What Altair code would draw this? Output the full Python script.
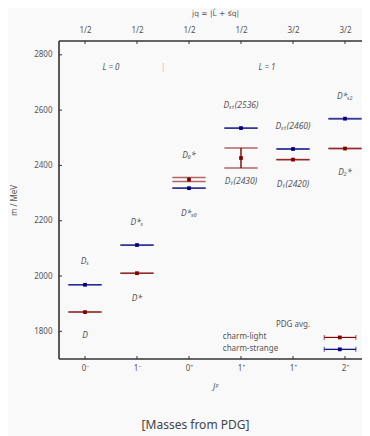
import json
import altair as alt
import pandas as pd

# ---------------- data ----------------
positions = [0, 1, 2, 3, 4, 5]
jp_labels = ["0⁻", "1⁻", "0⁺", "1⁺", "1⁺", "2⁺"]
jq_labels = ["1/2", "1/2", "1/2", "1/2", "3/2", "3/2"]

light_mass = [1869.66, 2010.26, 2349.0, 2427.0, 2421.0, 2461.1]
light_err = [0.05, 0.05, 7.0, 36.0, 0.6, 0.8]
light_names = ["D", "D*", "D₀*", "D₁(2430)", "D₁(2420)", "D₂*"]
light_label_y = [1785, 1920, 2436, 2342, 2334, 2376]

strange_mass = [1968.35, 2112.2, 2317.8, 2535.1, 2459.5, 2569.1]
strange_err = [0.07, 0.4, 0.5, 0.2, 0.6, 0.8]
strange_names = ["Dₛ", "D*ₛ", "D*ₛ₀", "Dₛ₁(2536)", "Dₛ₁(2460)", "D*ₛ₂"]
strange_label_y = [2053, 2194, 2227, 2620, 2544, 2652]

series = ["charm-light", "charm-strange"]
colors = ["#800000", "#000080"]

y_ticks = [1800, 2000, 2200, 2400, 2600, 2800]

L_text = ["L = 0", "|", "L = 1"]
L_x = [0.5, 1.5, 3.5]
L_y = [2752, 2752, 2752]

legend_title = "PDG avg."
legend_title_pos = (4.0, 1822)
legend_y = [1778, 1735]
legend_text_x = 2.65
legend_bar = (4.6, 5.21, 4.9)

half_width = 0.32

# ---------------- tables ----------------
pts = []
for s, masses, errs in [(series[0], light_mass, light_err), (series[1], strange_mass, strange_err)]:
    for p, m, e in zip(positions, masses, errs):
        pts.append({"series": s, "x": p, "m": m, "lo": m - e, "hi": m + e,
                    "x_lo": p - half_width, "x_hi": p + half_width})
pts_df = pd.DataFrame(pts)

caps = []
for r in pts:
    for yy in (r["lo"], r["hi"]):
        caps.append({"series": r["series"], "x_lo": r["x_lo"], "x_hi": r["x_hi"], "y": yy})
caps_df = pd.DataFrame(caps)

labels_df = pd.DataFrame(
    [{"x": p, "y": y, "t": t} for p, y, t in zip(positions, light_label_y, light_names)]
    + [{"x": p, "y": y, "t": t} for p, y, t in zip(positions, strange_label_y, strange_names)]
)
L_df = pd.DataFrame({"x": L_x, "y": L_y, "t": L_text})

leg_df = pd.DataFrame({"series": series, "y": legend_y, "tx": [legend_text_x] * 2,
                       "b0": [legend_bar[0]] * 2, "b1": [legend_bar[1]] * 2,
                       "bc": [legend_bar[2]] * 2})
leg_title_df = pd.DataFrame({"x": [legend_title_pos[0]], "y": [legend_title_pos[1]], "t": [legend_title]})
leg_ends_df = pd.DataFrame({"series": series * 2, "y": legend_y * 2,
                            "x": [legend_bar[0]] * 2 + [legend_bar[1]] * 2})

yt_df = pd.DataFrame({"y": y_ticks})
xt_df = pd.DataFrame({"x": positions})

# ---------------- chart ----------------
W, H = 303, 318      # visible part of the plot; the frame continues past the page edge
FULL_W = 312
FONT = "Noto Sans"
TXT = "#555555"
xs = alt.Scale(domain=[-0.5, 5.5], nice=False, zero=False, range=[0, FULL_W])
ys = alt.Scale(domain=[1700, 2850], nice=False, zero=False)
cs = alt.Scale(domain=series, range=colors)


def X(f, axis=None):
    return alt.X(f, type="quantitative", scale=xs, axis=axis)


def Y(f, axis=None):
    return alt.Y(f, type="quantitative", scale=ys, axis=axis)


C = alt.Color("series:N", scale=cs, legend=None)

bottom_axis = alt.Axis(orient="bottom", values=positions,
                       labelExpr=json.dumps(jp_labels, ensure_ascii=False) + "[datum.value]",
                       ticks=False, domain=False, grid=False, labelPadding=5,
                       labelFont=FONT, labelFontSize=8, labelColor=TXT,
                       title="Jᴾ", titleFont=FONT, titleFontSize=8, titleColor=TXT,
                       titleFontWeight="normal", titlePadding=11, titleFontStyle="italic")
top_axis = alt.Axis(orient="top", values=positions,
                    labelExpr=json.dumps(jq_labels) + "[datum.value]",
                    ticks=False, domain=False, grid=False, labelPadding=7,
                    labelFont=FONT, labelFontSize=8, labelColor=TXT,
                    title="jq = |L⃗ + s⃗q|", titleFont="DejaVu Sans", titleFontSize=7.5,
                    titleColor=TXT, titleFontWeight="normal", titlePadding=9)
left_axis = alt.Axis(orient="left", values=y_ticks, format="d", ticks=False, domain=False,
                     grid=False, labelPadding=7, labelFont=FONT, labelFontSize=8,
                     labelColor=TXT, title="m / MeV", titleFont=FONT, titleFontSize=8,
                     titleColor=TXT, titleFontWeight="normal", titlePadding=15)

caps_layer = alt.Chart(caps_df).mark_rule(strokeWidth=1.5, opacity=0.6).encode(
    x=X("x_lo", bottom_axis), x2="x_hi", y=Y("y", left_axis), color=C)

vert_layer = alt.Chart(pts_df).mark_rule(strokeWidth=1.4).encode(
    x=X("x", top_axis), y=Y("lo"), y2="hi", color=C)

pt_layer = alt.Chart(pts_df).mark_square(size=14, opacity=1).encode(
    x=X("x"), y=Y("m"), color=C)

lab_layer = alt.Chart(labels_df).mark_text(font=FONT, fontSize=8.5, fontStyle="italic",
                                           color=TXT, baseline="middle").encode(
    x=X("x"), y=Y("y"), text="t:N")

L_layer = alt.Chart(L_df).mark_text(font=FONT, fontSize=8, fontStyle="italic", color=TXT,
                                    baseline="middle").encode(
    x=X("x"), y=Y("y"), text="t:N",
    opacity=alt.condition(alt.datum.t == "|", alt.value(0.4), alt.value(1)))

leg_title_layer = alt.Chart(leg_title_df).mark_text(font=FONT, fontSize=8, color=TXT,
                                                    baseline="middle").encode(
    x=X("x"), y=Y("y"), text="t:N")
leg_text_layer = alt.Chart(leg_df).mark_text(font=FONT, fontSize=8, color=TXT, align="left",
                                             baseline="middle").encode(
    x=X("tx"), y=Y("y"), text="series:N")
leg_bar_layer = alt.Chart(leg_df).mark_rule(strokeWidth=1.2).encode(
    x=X("b0"), x2="b1", y=Y("y"), color=C)
leg_end_layer = alt.Chart(leg_ends_df).mark_tick(orient="vertical", size=5, thickness=1).encode(
    x=X("x"), y=Y("y"), color=C)
leg_pt_layer = alt.Chart(leg_df).mark_square(size=14, opacity=1).encode(
    x=X("bc"), y=Y("y"), color=C)

TICK = "#333333"
ytick_l = alt.Chart(yt_df).mark_rule(color=TICK, strokeWidth=1).encode(
    x=alt.value(0), x2=alt.value(3), y=Y("y"))
ytick_r = alt.Chart(yt_df).mark_rule(color=TICK, strokeWidth=1).encode(
    x=alt.value(FULL_W - 3), x2=alt.value(FULL_W), y=Y("y"))
xtick_b = alt.Chart(xt_df).mark_rule(color=TICK, strokeWidth=1).encode(
    x=X("x"), y=alt.value(H - 3), y2=alt.value(H))
xtick_t = alt.Chart(xt_df).mark_rule(color=TICK, strokeWidth=1).encode(
    x=X("x"), y=alt.value(0), y2=alt.value(3))

# frame: left, top, bottom (right edge falls outside the page)
spine_l = alt.Chart(xt_df.head(1)).mark_rule(color=TICK, strokeWidth=1.6).encode(
    x=alt.value(0), y=alt.value(0), y2=alt.value(H))
spine_t = alt.Chart(xt_df.head(1)).mark_rule(color=TICK, strokeWidth=1.6).encode(
    x=alt.value(0), x2=alt.value(FULL_W), y=alt.value(0))
spine_b = alt.Chart(xt_df.head(1)).mark_rule(color=TICK, strokeWidth=1.6).encode(
    x=alt.value(0), x2=alt.value(FULL_W), y=alt.value(H))

chart = alt.layer(
    caps_layer, vert_layer, pt_layer, lab_layer, L_layer,
    leg_title_layer, leg_text_layer, leg_bar_layer, leg_end_layer, leg_pt_layer,
    ytick_l, ytick_r, xtick_b, xtick_t, spine_l, spine_t, spine_b,
).resolve_axis(x="independent", y="independent").properties(
    width=W, height=H,
    autosize=alt.AutoSizeParams(type="none"),
    padding={"left": 51, "top": 33, "right": 0, "bottom": 77},
    background="#f9f9f9",
    title=alt.TitleParams("[Masses from PDG]", orient="bottom", anchor="middle",
                          font=FONT, fontSize=12, fontWeight="normal", color="#444444",
                          offset=29, dx=-15),
).configure_view(stroke=None)

chart.save("out.html", embed_options={"renderer": "svg", "actions": False})
